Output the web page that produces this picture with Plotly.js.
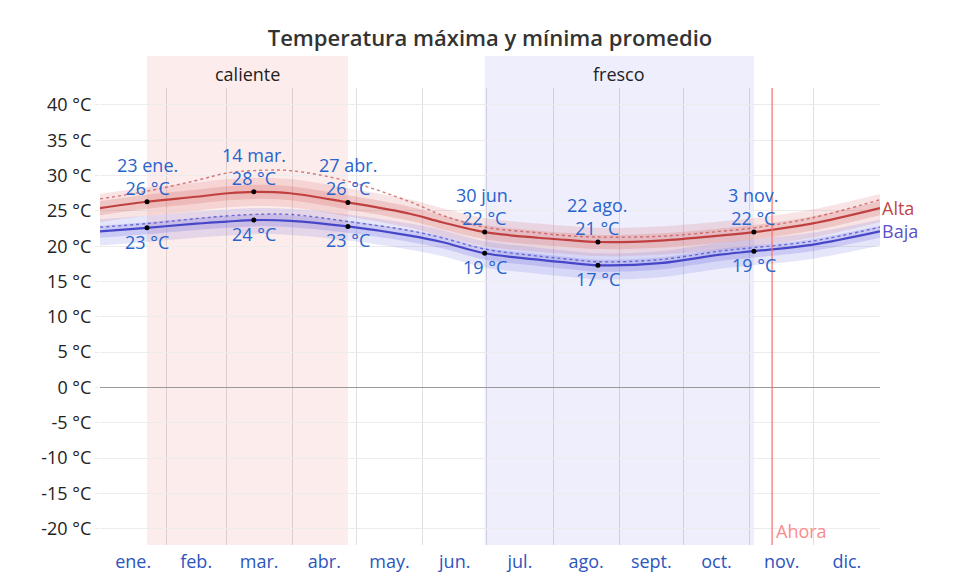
<!DOCTYPE html>
<html>
<head>
<meta charset="utf-8">
<script src="https://cdn.plot.ly/plotly-3.0.1.min.js"></script>
<style>html,body{margin:0;padding:0;background:#fff}#chart{width:953px;height:572px}</style>
</head>
<body>
<div id="chart"></div>
<script>
// ---- data (day of year, 0 = 1 Jan) ----
const days      = [0, 22, 45, 60, 72, 89, 116, 145, 160, 180, 205, 218, 233, 262, 290, 306, 333, 365];
const alta      = [25.4, 26.3, 27.0, 27.5, 27.7, 27.5, 26.2, 24.6, 23.4, 22.0, 21.2, 20.9, 20.6, 20.8, 21.5, 22.0, 23.2, 25.4];
const baja      = [22.1, 22.6, 23.2, 23.5, 23.7, 23.6, 22.8, 21.5, 20.6, 19.0, 18.1, 17.7, 17.3, 17.6, 18.8, 19.3, 20.2, 22.1];
const altaPerc  = [26.7, 27.8, 29.3, 30.4, 30.7, 30.7, 29.2, 26.3, 24.4, 22.7, 21.9, 21.5, 21.3, 21.4, 22.1, 22.6, 24.0, 26.6];
const bajaPerc  = [22.7, 23.2, 23.9, 24.3, 24.5, 24.5, 23.5, 22.2, 21.2, 19.6, 18.6, 18.2, 17.8, 18.1, 19.3, 19.8, 20.7, 22.7];
const altaP90   = [27.4, 28.3, 29.0, 29.5, 29.7, 29.5, 28.2, 26.6, 25.4, 24.0, 23.2, 22.9, 22.6, 22.8, 23.5, 24.0, 25.2, 27.4];
const altaP75   = [26.4, 27.3, 28.0, 28.5, 28.7, 28.5, 27.2, 25.6, 24.4, 23.0, 22.2, 21.9, 21.6, 21.8, 22.5, 23.0, 24.2, 26.4];
const altaP25   = [24.4, 25.3, 26.0, 26.5, 26.7, 26.5, 25.2, 23.6, 22.4, 21.0, 20.2, 19.9, 19.6, 19.8, 20.5, 21.0, 22.2, 24.4];
const altaP10   = [23.4, 24.3, 25.0, 25.5, 25.7, 25.5, 24.2, 22.6, 21.4, 20.0, 19.2, 18.9, 18.6, 18.8, 19.5, 20.0, 21.2, 23.4];
const bajaP90   = [23.8, 24.3, 24.9, 25.2, 25.4, 25.3, 24.5, 23.2, 22.3, 20.7, 19.8, 19.4, 19.0, 19.3, 20.5, 21.0, 21.9, 23.8];
const bajaP75   = [22.9, 23.4, 24.0, 24.3, 24.5, 24.4, 23.6, 22.3, 21.4, 19.8, 18.9, 18.5, 18.1, 18.4, 19.6, 20.1, 21.0, 22.9];
const bajaP25   = [21.2, 21.7, 22.3, 22.6, 22.8, 22.7, 21.9, 20.6, 19.7, 18.1, 17.2, 16.8, 16.4, 16.7, 17.9, 18.4, 19.3, 21.2];
const bajaP10   = [20.1, 20.6, 21.2, 21.5, 21.7, 21.6, 20.8, 19.5, 18.6, 17.0, 16.1, 15.7, 15.3, 15.6, 16.8, 17.3, 18.2, 20.1];

const markDays   = [22, 72, 116, 180, 233, 306];
const markLabels = ['23 ene.', '14 mar.', '27 abr.', '30 jun.', '22 ago.', '3 nov.'];
const markAlta   = [26.3, 27.7, 26.2, 22.0, 20.6, 22.0];
const markBaja   = [22.6, 23.7, 22.8, 19.0, 17.3, 19.3];

const monthMid    = [15.5, 45, 74.5, 105, 135.5, 166, 196.5, 227.5, 258, 288.5, 319, 349.5];
const monthLabels = ['ene.', 'feb.', 'mar.', 'abr.', 'may.', 'jun.', 'jul.', 'ago.', 'sept.', 'oct.', 'nov.', 'dic.'];
const monthStarts = [31, 59, 90, 120, 151, 181, 212, 243, 273, 304, 334];
const yTickVals   = [-20, -15, -10, -5, 0, 5, 10, 15, 20, 25, 30, 35, 40];
const yTickText   = yTickVals.map(v => v + ' °C');

const seasonNames = ['caliente', 'fresco'];
const seasonStart = [22, 180];
const seasonEnd   = [116, 306];
const ahoraDay    = 314.5;

// ---- traces ----
const RED = 'rgb(192,64,64)', BLUE = 'rgb(70,70,200)';
const FONT = 'Open Sans, sans-serif';
function band(upper, lower, color) {
  return [
    {x: days, y: upper, mode: 'lines', line: {width: 0, shape: 'spline'}, hoverinfo: 'skip', showlegend: false},
    {x: days, y: lower, mode: 'lines', line: {width: 0, shape: 'spline'}, fill: 'tonexty', fillcolor: color, hoverinfo: 'skip', showlegend: false}
  ];
}
const traces = [
  ...band(altaP90, altaP10, 'rgba(210,90,90,0.16)'),
  ...band(altaP75, altaP25, 'rgba(210,90,90,0.22)'),
  ...band(bajaP90, bajaP10, 'rgba(90,90,220,0.15)'),
  ...band(bajaP75, bajaP25, 'rgba(90,90,220,0.20)'),
  {x: days, y: altaPerc, mode: 'lines', line: {color: 'rgba(200,80,80,0.75)', width: 1.4, dash: 'dot', shape: 'spline'}, showlegend: false},
  {x: days, y: bajaPerc, mode: 'lines', line: {color: 'rgba(80,80,210,0.8)', width: 1.4, dash: 'dot', shape: 'spline'}, showlegend: false},
  {x: days, y: alta, mode: 'lines', line: {color: RED, width: 2.2, shape: 'spline'}, showlegend: false},
  {x: days, y: baja, mode: 'lines', line: {color: BLUE, width: 2.2, shape: 'spline'}, showlegend: false},
  {x: markDays, y: markAlta, mode: 'markers', marker: {color: '#000', size: 5}, showlegend: false},
  {x: markDays, y: markBaja, mode: 'markers', marker: {color: '#000', size: 5}, showlegend: false}
];

// ---- shapes ----
const shapes = [];
const seasonFill = ['rgb(253,236,236)', 'rgb(238,238,252)'];
seasonNames.forEach((n, i) => {
  shapes.push({type: 'rect', xref: 'x', yref: 'paper', x0: seasonStart[i], x1: seasonEnd[i], y0: 0, y1: 1.07,
    fillcolor: seasonFill[i], line: {width: 0}, layer: 'below'});
});
shapes.push({type: 'line', xref: 'x', yref: 'paper', x0: ahoraDay, x1: ahoraDay, y0: 0, y1: 1,
  line: {color: 'rgba(245,110,110,0.8)', width: 1.5}});

// ---- annotations ----
const TXT = 'rgb(40,100,205)';
const annotations = [];
seasonNames.forEach((n, i) => {
  annotations.push({x: (seasonStart[i] + seasonEnd[i]) / 2, y: 1.03, xref: 'x', yref: 'paper', text: n,
    showarrow: false, font: {size: 18, color: '#222', family: FONT}, yanchor: 'middle'});
});
markDays.forEach((d, i) => {
  annotations.push({x: d, y: markAlta[i], xref: 'x', yref: 'y', text: markLabels[i] + '<br>' + Math.round(markAlta[i]) + ' °C',
    showarrow: false, yanchor: 'bottom', yshift: 0, font: {size: 18, color: TXT, family: FONT}});
  annotations.push({x: d, y: markBaja[i], xref: 'x', yref: 'y', text: Math.round(markBaja[i]) + ' °C',
    showarrow: false, yanchor: 'top', yshift: 0, font: {size: 18, color: TXT, family: FONT}});
});
annotations.push({x: days[days.length - 1], y: alta[alta.length - 1], xref: 'x', yref: 'y', text: 'Alta', showarrow: false,
  xanchor: 'left', xshift: 0, font: {size: 18, color: 'rgb(190,70,70)', family: FONT}});
annotations.push({x: days[days.length - 1], y: baja[baja.length - 1], xref: 'x', yref: 'y', text: 'Baja', showarrow: false,
  xanchor: 'left', xshift: 0, font: {size: 18, color: 'rgb(90,80,200)', family: FONT}});
annotations.push({x: ahoraDay, y: -20.3, xref: 'x', yref: 'y', text: 'Ahora', showarrow: false,
  xanchor: 'left', xshift: 2, font: {size: 18, color: 'rgb(250,140,140)', family: FONT}});

const layout = {
  width: 953, height: 572,
  margin: {l: 100, r: 73, t: 88, b: 27},
  paper_bgcolor: '#fff', plot_bgcolor: 'rgba(0,0,0,0)',
  font: {family: FONT, color: '#222'},
  title: {text: 'Temperatura máxima y mínima promedio', x: 0.5, xref: 'paper', y: 1 - 38 / 572, yref: 'container', yanchor: 'middle',
    font: {size: 22, color: '#333', weight: 600, family: FONT}},
  xaxis: {range: [0, 365], tickmode: 'array', tickvals: monthMid, ticktext: monthLabels, showgrid: false, zeroline: false,
    ticks: '', ticklabelstandoff: 4, tickfont: {size: 18, color: 'rgb(45,85,190)'}, fixedrange: true,
    minor: {tickmode: 'array', tickvals: monthStarts, showgrid: true, gridcolor: 'rgba(0,0,0,0.12)', gridwidth: 1}},
  yaxis: {range: [-22.3, 42.4], tickmode: 'array', tickvals: yTickVals, ticktext: yTickText, showgrid: true, gridcolor: '#ececec',
    zeroline: true, zerolinecolor: '#999', zerolinewidth: 1, ticks: 'outside', ticklen: 4, tickcolor: '#ececec',
    tickfont: {size: 18, color: '#222'}, fixedrange: true},
  shapes: shapes,
  annotations: annotations,
  showlegend: false
};

Plotly.newPlot('chart', traces, layout, {displayModeBar: false, staticPlot: true});
</script>
</body>
</html>
